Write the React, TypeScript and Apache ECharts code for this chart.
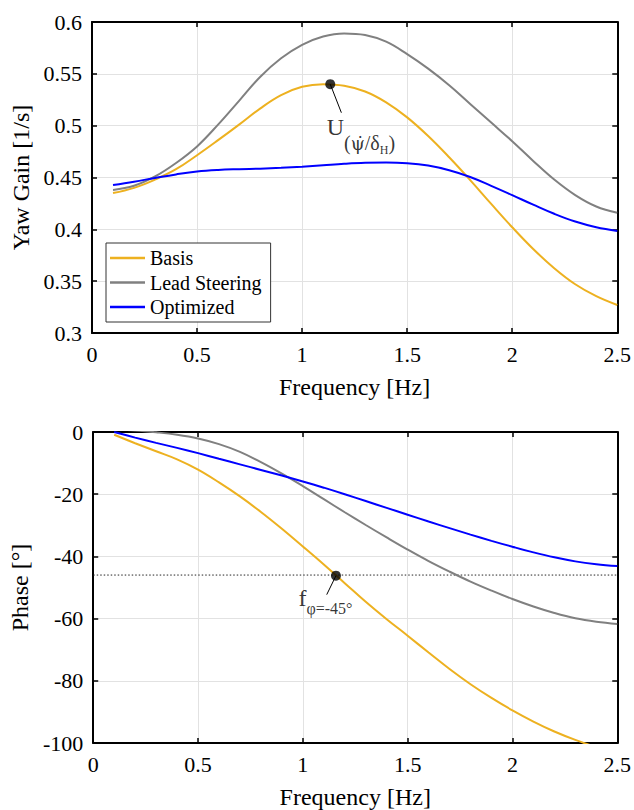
import React, { useEffect, useRef } from "react";
import * as echarts from "echarts";

const FONT = "Liberation Serif";

// Frequency samples [Hz]
const freq = [0.1, 0.2, 0.3, 0.4, 0.5, 0.6, 0.7, 0.8, 0.9, 1.0, 1.1, 1.2, 1.3, 1.4, 1.5, 1.6, 1.7, 1.8, 1.9, 2.0, 2.1, 2.2, 2.3, 2.4, 2.5];

// Yaw gain [1/s]
const basisGain = [0.435, 0.44, 0.448, 0.458, 0.4715, 0.486, 0.501, 0.5165, 0.5295, 0.5375, 0.54, 0.5385, 0.533, 0.5225, 0.508, 0.49, 0.4695, 0.4475, 0.4245, 0.402, 0.381, 0.3625, 0.347, 0.3355, 0.327];
const leadGain = [0.438, 0.442, 0.451, 0.464, 0.48, 0.501, 0.524, 0.547, 0.565, 0.578, 0.586, 0.589, 0.5875, 0.581, 0.569, 0.555, 0.539, 0.521, 0.503, 0.485, 0.466, 0.448, 0.433, 0.422, 0.416];
const optGain = [0.4428, 0.446, 0.4496, 0.453, 0.4558, 0.4573, 0.458, 0.4585, 0.4593, 0.4604, 0.4618, 0.4632, 0.4642, 0.4645, 0.4638, 0.4615, 0.457, 0.4505, 0.442, 0.433, 0.4238, 0.415, 0.4075, 0.402, 0.3985];

// Phase [deg]
const basisPhase = [-0.9, -3.6, -6.2, -8.8, -12.1, -16.2, -20.7, -25.7, -31.1, -36.8, -42.6, -48.6, -54.6, -60.2, -65.5, -70.9, -76.2, -81.1, -85.5, -89.5, -93.1, -96.3, -99.0, -101.3, -103.2];
const leadPhase = [0.8, 0.5, -0.1, -0.9, -2.1, -3.9, -6.4, -9.7, -13.4, -17.4, -21.6, -25.8, -29.9, -33.9, -37.8, -41.5, -44.9, -48.1, -51.0, -53.7, -56.1, -58.2, -59.9, -61.0, -61.7];
const optPhase = [0, -1.8, -3.5, -5.1, -6.8, -8.6, -10.4, -12.2, -14.0, -15.9, -17.9, -20.0, -22.2, -24.4, -26.6, -28.8, -30.9, -33.0, -35.0, -36.9, -38.7, -40.3, -41.6, -42.5, -43.1];

// Annotations
const gainPeak = [1.134, 0.54];
const gainLeaderEnd = [1.187, 0.5125];
const gainLabelAnchor = [1.117, 0.4987];
const phaseRef = -46;
const phasePoint = [1.158, -46.2];
const phaseLeaderEnd = [1.114, -52.3];
const phaseLabelAnchor = [0.979, -53.5];

const seriesNames = ["Basis", "Lead Steering", "Optimized"];
const colors = ["#EDB120", "#808080", "#0000FF"];

const zip = (xs: number[], ys: number[]) => xs.map((x, i) => [x, ys[i]]);

export default function App() {
  const ref = useRef<HTMLDivElement>(null);
  useEffect(() => {
    const chart = echarts.init(ref.current!, null, { renderer: "svg" });

    const axisLine = { show: true, onZero: false, lineStyle: { color: "#000", width: 2 } };
    const tick = { show: true, inside: true, length: 5, lineStyle: { color: "#000", width: 1.5 } };
    const split = { show: true, lineStyle: { color: "#e2e2e2", width: 1 } };
    const tickLabel = { fontFamily: FONT, fontSize: 22, color: "#000", margin: 10 };
    const nameStyle = { fontFamily: FONT, fontSize: 24, color: "#000" };

    const xMain = (g: number) => ({
      type: "value", gridIndex: g, min: 0, max: 2.5, interval: 0.5, position: "bottom",
      axisLine, axisTick: tick, axisLabel: tickLabel, splitLine: split,
      name: "Frequency [Hz]", nameLocation: "middle", nameGap: 42, nameTextStyle: nameStyle,
    });
    const xTop = (g: number) => ({
      type: "value", gridIndex: g, min: 0, max: 2.5, interval: 0.5, position: "top",
      axisLine, axisTick: tick, axisLabel: { show: false }, splitLine: { show: false },
    });
    const yMain = (g: number, min: number, max: number, interval: number, name: string) => ({
      type: "value", gridIndex: g, min, max, interval, position: "left",
      axisLine, axisTick: tick, axisLabel: tickLabel, splitLine: split,
      name, nameLocation: "middle", nameGap: 50, nameTextStyle: nameStyle,
    });
    const yRight = (g: number, min: number, max: number, interval: number) => ({
      type: "value", gridIndex: g, min, max, interval, position: "right",
      axisLine, axisTick: tick, axisLabel: { show: false }, splitLine: { show: false },
    });

    const lineSeries = (name: string, color: string, data: number[][], axis: number) => ({
      name, type: "line", xAxisIndex: axis, yAxisIndex: axis, data, smooth: 0.4,
      showSymbol: false, symbol: "none", lineStyle: { color, width: 2 }, itemStyle: { color },
      clip: true, z: 3,
    });

    const option: any = {
      animation: false,
      backgroundColor: "#fff",
      textStyle: { fontFamily: FONT },
      grid: [
        { left: 92, right: 16, top: 22, bottom: 477 },
        { left: 92, right: 16, top: 432, bottom: 67 },
      ],
      legend: {
        data: seriesNames,
        orient: "vertical",
        left: 106,
        top: 243,
        padding: [5, 9, 5, 4],
        itemGap: 4.5,
        itemWidth: 35,
        itemHeight: 2.5,
        icon: "rect",
        selectedMode: false,
        backgroundColor: "#fff",
        borderColor: "#333",
        borderWidth: 1,
        borderRadius: 0,
        textStyle: { fontFamily: FONT, fontSize: 20, color: "#000" },
      },
      xAxis: [xMain(0), xTop(0), xMain(1), xTop(1)],
      yAxis: [
        yMain(0, 0.3, 0.6, 0.05, "Yaw Gain [1/s]"),
        yRight(0, 0.3, 0.6, 0.05),
        yMain(1, -100, 0, 20, "Phase [°]"),
        yRight(1, -100, 0, 20),
      ],
      series: [
        lineSeries(seriesNames[0], colors[0], zip(freq, basisGain), 0),
        lineSeries(seriesNames[1], colors[1], zip(freq, leadGain), 0),
        lineSeries(seriesNames[2], colors[2], zip(freq, optGain), 0),
        {
          type: "line", xAxisIndex: 2, yAxisIndex: 2, data: [[0, phaseRef], [2.5, phaseRef]],
          showSymbol: false, symbol: "none", lineStyle: { color: "#222", width: 1, type: [1.5, 2] }, z: 2,
        },
        lineSeries(seriesNames[0], colors[0], zip(freq, basisPhase), 2),
        lineSeries(seriesNames[1], colors[1], zip(freq, leadPhase), 2),
        lineSeries(seriesNames[2], colors[2], zip(freq, optPhase), 2),
        // leader lines
        {
          type: "line", xAxisIndex: 0, yAxisIndex: 0, data: [gainPeak, gainLeaderEnd],
          showSymbol: false, symbol: "none", lineStyle: { color: "#000", width: 1 }, z: 5,
        },
        {
          type: "line", xAxisIndex: 2, yAxisIndex: 2, data: [phasePoint, phaseLeaderEnd],
          showSymbol: false, symbol: "none", lineStyle: { color: "#000", width: 1 }, z: 5,
        },
        // markers
        {
          type: "scatter", xAxisIndex: 0, yAxisIndex: 0, data: [gainPeak], symbolSize: 10,
          itemStyle: { color: "#000" }, z: 6,
        },
        {
          type: "scatter", xAxisIndex: 2, yAxisIndex: 2, data: [phasePoint], symbolSize: 10,
          itemStyle: { color: "#000" }, z: 6,
        },
        // labels
        {
          type: "scatter", xAxisIndex: 0, yAxisIndex: 0, data: [gainLabelAnchor], symbolSize: 0,
          silent: true, z: 7,
          label: {
            show: true, position: "right", distance: 0,
            formatter: "{u|U}{s|(}{p|ψ\u0307}{s|/δ}{h|H}{s|)}",
            rich: {
              u: { fontFamily: FONT, fontSize: 24, color: "#000" },
              s: { fontFamily: FONT, fontSize: 20, color: "#000", padding: [32, 0, 0, 0] },
              p: { fontFamily: "DejaVu Serif", fontSize: 18, color: "#000", padding: [32, 0, 0, 0] },
              h: { fontFamily: FONT, fontSize: 12, color: "#000", padding: [46, 0, 0, 0] },
            },
          },
        },
        {
          type: "scatter", xAxisIndex: 2, yAxisIndex: 2, data: [phaseLabelAnchor], symbolSize: 0,
          silent: true, z: 7,
          label: {
            show: true, position: "right", distance: 0,
            formatter: "{f|f}{s|φ=-45°}",
            rich: {
              f: { fontFamily: FONT, fontSize: 24, color: "#000" },
              s: { fontFamily: FONT, fontSize: 16, color: "#000", padding: [21, 0, 0, 0] },
            },
          },
        },
      ],
    };

    chart.setOption(option);
    return () => chart.dispose();
  }, []);

  return (
    <div
      ref={ref}
      style={{ position: "fixed", left: 0, top: 0, width: 634, height: 810, background: "#fff" }}
    />
  );
}
